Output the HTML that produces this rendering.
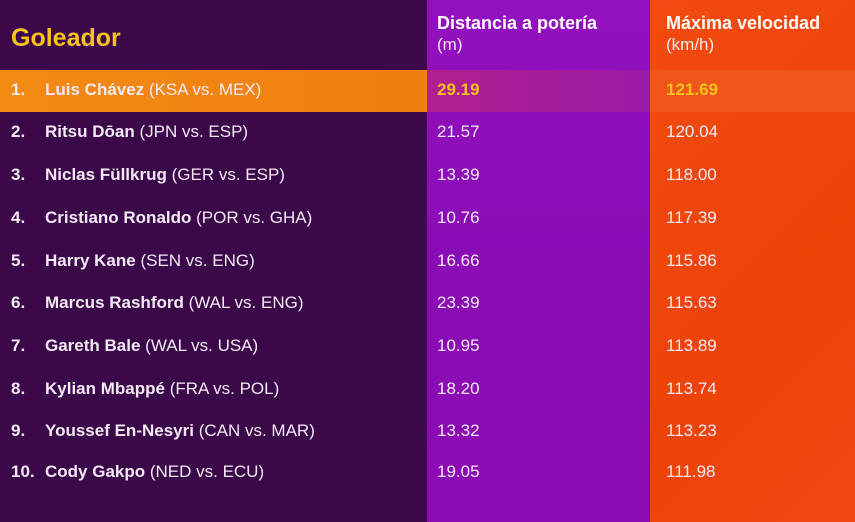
<!DOCTYPE html>
<html><head><meta charset="utf-8"><style>
*{margin:0;padding:0;box-sizing:border-box}
body{width:855px;height:522px;overflow:hidden;background:#3b0849;font-family:"Liberation Sans","DejaVu Sans",sans-serif;position:relative}
.c1{position:absolute;left:427px;top:0;width:223px;height:522px;background:linear-gradient(180deg,#9310bf 0%,#8a0cb5 50%,#8c0ab3 100%)}
.c2{position:absolute;left:650px;top:0;width:205px;height:522px;background:linear-gradient(135deg,#f24a10 0%,#ee4308 60%,#f04810 100%)}
.hl{position:absolute;left:0;top:70px;width:427px;height:42px;background:linear-gradient(90deg,#f28a12,#f07e10)}
.hl2{position:absolute;left:427px;top:70px;width:223px;height:42px;background:linear-gradient(90deg,#b2208f,#9a1aa8)}
.hl3{position:absolute;left:650px;top:70px;width:205px;height:42px;background:#f0561a}
.t{position:absolute;color:#f4eaf6;font-size:17px;white-space:nowrap;line-height:20px}
.n{position:absolute;left:11px;color:#f4eaf6;font-size:17px;font-weight:bold;line-height:20px}
.b{font-weight:bold}
.h{position:absolute;color:#fff;font-weight:bold;font-size:18px;line-height:18px}
.y{color:#f7c21a}
</style></head><body>
<div class="c1"></div><div class="c2"></div>
<div class="hl"></div><div class="hl2"></div><div class="hl3"></div>
<div class="t b y" style="left:11px;top:24px;font-size:25px;line-height:28px">Goleador</div>
<div class="h" style="left:437px;top:14px">Distancia a potería</div>
<div class="t" style="left:437px;top:35px">(m)</div>
<div class="h" style="left:666px;top:14px">Máxima velocidad</div>
<div class="t" style="left:666px;top:35px">(km/h)</div>

<div class="n" style="top:80px">1.</div><div class="t" style="left:45px;top:80px"><b>Luis Chávez</b> (KSA vs. MEX)</div>
<div class="t b y" style="left:437px;top:80px">29.19</div><div class="t b y" style="left:666px;top:80px">121.69</div>

<div class="n" style="top:122px">2.</div><div class="t" style="left:45px;top:122px"><b>Ritsu Dōan</b> (JPN vs. ESP)</div>
<div class="t" style="left:437px;top:122px">21.57</div><div class="t" style="left:666px;top:122px">120.04</div>

<div class="n" style="top:165px">3.</div><div class="t" style="left:45px;top:165px"><b>Niclas Füllkrug</b> (GER vs. ESP)</div>
<div class="t" style="left:437px;top:165px">13.39</div><div class="t" style="left:666px;top:165px">118.00</div>

<div class="n" style="top:208px">4.</div><div class="t" style="left:45px;top:208px"><b>Cristiano Ronaldo</b> (POR vs. GHA)</div>
<div class="t" style="left:437px;top:208px">10.76</div><div class="t" style="left:666px;top:208px">117.39</div>

<div class="n" style="top:251px">5.</div><div class="t" style="left:45px;top:251px"><b>Harry Kane</b> (SEN vs. ENG)</div>
<div class="t" style="left:437px;top:251px">16.66</div><div class="t" style="left:666px;top:251px">115.86</div>

<div class="n" style="top:293px">6.</div><div class="t" style="left:45px;top:293px"><b>Marcus Rashford</b> (WAL vs. ENG)</div>
<div class="t" style="left:437px;top:293px">23.39</div><div class="t" style="left:666px;top:293px">115.63</div>

<div class="n" style="top:336px">7.</div><div class="t" style="left:45px;top:336px"><b>Gareth Bale</b> (WAL vs. USA)</div>
<div class="t" style="left:437px;top:336px">10.95</div><div class="t" style="left:666px;top:336px">113.89</div>

<div class="n" style="top:379px">8.</div><div class="t" style="left:45px;top:379px"><b>Kylian Mbappé</b> (FRA vs. POL)</div>
<div class="t" style="left:437px;top:379px">18.20</div><div class="t" style="left:666px;top:379px">113.74</div>

<div class="n" style="top:421px">9.</div><div class="t" style="left:45px;top:421px"><b>Youssef En-Nesyri</b> (CAN vs. MAR)</div>
<div class="t" style="left:437px;top:421px">13.32</div><div class="t" style="left:666px;top:421px">113.23</div>

<div class="n" style="top:462px">10.</div><div class="t" style="left:45px;top:462px"><b>Cody Gakpo</b> (NED vs. ECU)</div>
<div class="t" style="left:437px;top:462px">19.05</div><div class="t" style="left:666px;top:462px">111.98</div>
</body></html>
